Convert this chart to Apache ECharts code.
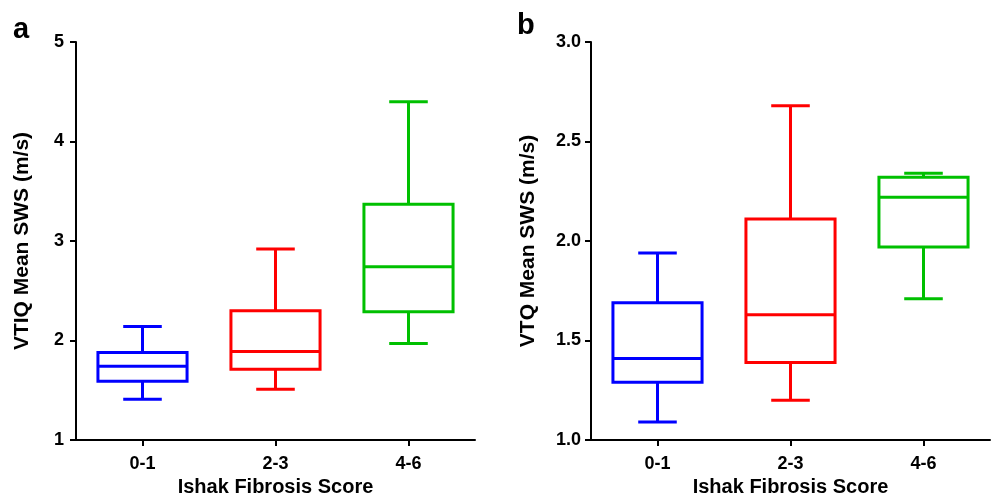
<!DOCTYPE html>
<html>
<head>
<meta charset="utf-8">
<script src="https://cdn.jsdelivr.net/npm/echarts@6/dist/echarts.min.js"></script>
<style>html,body{margin:0;padding:0;background:#fff}#c{width:992px;height:495px}</style>
</head>
<body>
<div id="c"></div>
<script>
const categories = ['0-1', '2-3', '4-6'];
const groupColors = ['#0000FF', '#FF0000', '#00C000'];

// Panel a: VTIQ
const vtiqMin = [1.41, 1.51, 1.97];
const vtiqQ1 = [1.59, 1.71, 2.29];
const vtiqMedian = [1.74, 1.89, 2.74];
const vtiqQ3 = [1.88, 2.30, 3.37];
const vtiqMax = [2.14, 2.92, 4.40];

// Panel b: VTQ
const vtqMin = [1.09, 1.20, 1.71];
const vtqQ1 = [1.29, 1.39, 1.97];
const vtqMedian = [1.41, 1.63, 2.22];
const vtqQ3 = [1.69, 2.11, 2.32];
const vtqMax = [1.94, 2.68, 2.34];

const yTicksA = [1, 2, 3, 4, 5];
const yTicksB = [1.0, 1.5, 2.0, 2.5, 3.0];

const FONT = "'Liberation Sans', Arial, sans-serif";

function buildData(mn, q1, md, q3, mx) {
  return categories.map((c, i) => [i, mn[i], q1[i], md[i], q3[i], mx[i]]);
}

function renderBox(params, api) {
  const i = api.value(0);
  const pMin = api.coord([i, api.value(1)]);
  const pQ1 = api.coord([i, api.value(2)]);
  const pMed = api.coord([i, api.value(3)]);
  const pQ3 = api.coord([i, api.value(4)]);
  const pMax = api.coord([i, api.value(5)]);
  const band = api.size([1, 0])[0];
  const bw = band * 0.67;
  const cw = band * 0.29;
  const cx = pMed[0];
  const color = groupColors[i];
  const st = { stroke: color, lineWidth: 3, fill: null };
  return {
    type: 'group',
    children: [
      { type: 'line', shape: { x1: cx, y1: pQ3[1], x2: cx, y2: pMax[1] }, style: st },
      { type: 'line', shape: { x1: cx - cw / 2, y1: pMax[1], x2: cx + cw / 2, y2: pMax[1] }, style: st },
      { type: 'line', shape: { x1: cx, y1: pQ1[1], x2: cx, y2: pMin[1] }, style: st },
      { type: 'line', shape: { x1: cx - cw / 2, y1: pMin[1], x2: cx + cw / 2, y2: pMin[1] }, style: st },
      { type: 'rect', shape: { x: cx - bw / 2, y: pQ3[1], width: bw, height: pQ1[1] - pQ3[1] }, style: { stroke: color, lineWidth: 3, fill: '#fff', lineJoin: 'miter' } },
      { type: 'line', shape: { x1: cx - bw / 2, y1: pMed[1], x2: cx + bw / 2, y2: pMed[1] }, style: st }
    ]
  };
}

const axisLine = { show: true, lineStyle: { color: '#000', width: 2 } };
const axisTick = { show: true, length: 6, lineStyle: { color: '#000', width: 2 } };
const labelStyle = { color: '#000', fontSize: 18, fontWeight: 'bold', fontFamily: FONT };
const xNameStyle = { color: '#000', fontSize: 20, fontWeight: 'bold', fontFamily: FONT };
const yNameStyle = { color: '#000', fontSize: 21, fontWeight: 'bold', fontFamily: FONT };

function xAxis(gi) {
  return {
    type: 'category', gridIndex: gi, data: categories,
    axisLine, axisTick: Object.assign({ alignWithLabel: true }, axisTick),
    axisLabel: Object.assign({ margin: 15 }, labelStyle),
    splitLine: { show: false },
    name: 'Ishak Fibrosis Score', nameLocation: 'middle', nameGap: 37, nameTextStyle: xNameStyle
  };
}

const option = {
  animation: false,
  backgroundColor: '#fff',
  grid: [
    { left: 76, top: 42, width: 399, height: 398, outerBoundsMode: 'none', containLabel: false },
    { left: 591, top: 42, width: 399, height: 398, outerBoundsMode: 'none', containLabel: false }
  ],
  xAxis: [xAxis(0), xAxis(1)],
  yAxis: [
    {
      type: 'value', gridIndex: 0, min: yTicksA[0], max: yTicksA[yTicksA.length - 1], interval: 1,
      axisLine, axisTick, splitLine: { show: false },
      axisLabel: Object.assign({ margin: 12 }, labelStyle),
      name: 'VTIQ Mean SWS (m/s)', nameLocation: 'middle', nameRotate: 90, nameGap: 43, nameTextStyle: yNameStyle
    },
    {
      type: 'value', gridIndex: 1, min: yTicksB[0], max: yTicksB[yTicksB.length - 1], interval: 0.5,
      axisLine, axisTick, splitLine: { show: false },
      axisLabel: Object.assign({ margin: 10, formatter: v => v.toFixed(1) }, labelStyle),
      name: 'VTQ Mean SWS (m/s)', nameLocation: 'middle', nameRotate: 90, nameGap: 52, nameTextStyle: yNameStyle
    }
  ],
  graphic: [
    { type: 'text', left: 13, top: 15, style: { text: 'a', fontSize: 29, fontWeight: 'bold', fontFamily: FONT, fill: '#000' } },
    { type: 'text', left: 517, top: 11, style: { text: 'b', fontSize: 29, fontWeight: 'bold', fontFamily: FONT, fill: '#000' } }
  ],
  series: [
    {
      type: 'custom', xAxisIndex: 0, yAxisIndex: 0, renderItem: renderBox,
      encode: { x: 0, y: [1, 2, 3, 4, 5] },
      data: buildData(vtiqMin, vtiqQ1, vtiqMedian, vtiqQ3, vtiqMax)
    },
    {
      type: 'custom', xAxisIndex: 1, yAxisIndex: 1, renderItem: renderBox,
      encode: { x: 0, y: [1, 2, 3, 4, 5] },
      data: buildData(vtqMin, vtqQ1, vtqMedian, vtqQ3, vtqMax)
    }
  ]
};

const chart = echarts.init(document.getElementById('c'), null, { renderer: 'canvas' });
chart.setOption(option);
</script>
</body>
</html>
